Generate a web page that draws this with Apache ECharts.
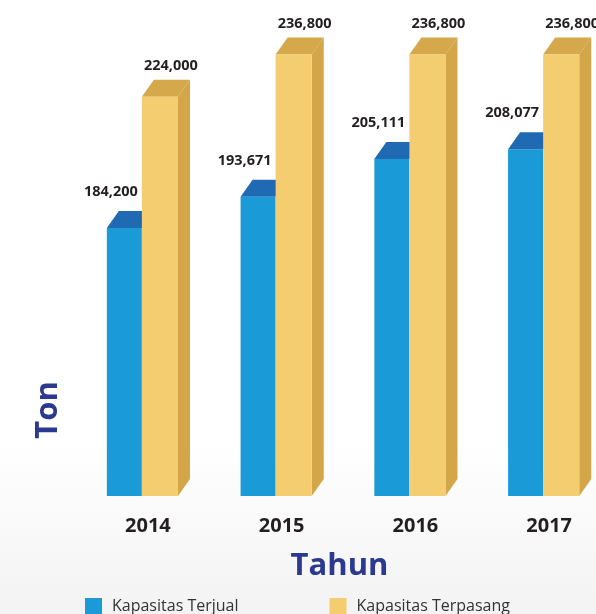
<!DOCTYPE html>
<html>
<head>
<meta charset="utf-8">
<script src="https://cdn.jsdelivr.net/npm/echarts@6/dist/echarts.min.js"></script>
<style>
html,body{margin:0;padding:0;}
#chart{width:596px;height:614px;}
</style>
</head>
<body>
<div id="chart"></div>
<script>
const years = ['2014', '2015', '2016', '2017'];
const kapasitasTerjual = [184200, 193671, 205111, 208077];
const kapasitasTerpasang = [224000, 236800, 236800, 236800];
const seriesNames = ['Kapasitas Terjual', 'Kapasitas Terpasang'];

const Y_MIN = 103000, Y_MAX = 250300;
const DX = 12, DY = 17;
const FONT = '"Open Sans", "Noto Sans", sans-serif';
const fmt = v => v.toLocaleString('en-US');

function blueItem(params, api) {
  const idx = api.value(0), val = api.value(1);
  const band = api.size([1, 0])[0];
  const w = band * 0.262;
  const p = api.coord([idx, val]);
  const b = api.coord([idx, Y_MIN]);
  const cx = p[0], top = p[1], base = b[1];
  return {
    type: 'group',
    children: [
      { type: 'rect', shape: { x: cx - w, y: top, width: w, height: base - top }, style: { fill: '#1a9bd7' } },
      { type: 'polygon', shape: { points: [[cx - w, top], [cx - w + DX, top - DY], [cx + DX, top - DY], [cx, top]] }, style: { fill: '#1f6ab3' } },
      { type: 'text', style: { text: fmt(val), x: cx - 4, y: top - DY - 19, align: 'right', verticalAlign: 'middle', fill: '#231f20', fontSize: 14.5, fontWeight: 'bold', fontFamily: FONT } }
    ]
  };
}

function yellowItem(params, api) {
  const idx = api.value(0), val = api.value(1);
  const band = api.size([1, 0])[0];
  const w = band * 0.27;
  const p = api.coord([idx, val]);
  const b = api.coord([idx, Y_MIN]);
  const cx = p[0], top = p[1], base = b[1];
  return {
    type: 'group',
    children: [
      { type: 'polygon', shape: { points: [[cx + w, top], [cx + w + DX, top - DY], [cx + w + DX, base - DY], [cx + w, base]] }, style: { fill: '#d3a64a' } },
      { type: 'polygon', shape: { points: [[cx, top], [cx + DX, top - DY], [cx + w + DX, top - DY], [cx + w, top]] }, style: { fill: '#d4a84b' } },
      { type: 'rect', shape: { x: cx, y: top, width: w, height: base - top }, style: { fill: '#f4cd71' } },
      { type: 'text', style: { text: fmt(val), x: cx + 2, y: top - DY - 14, align: 'left', verticalAlign: 'middle', fill: '#231f20', fontSize: 14.5, fontWeight: 'bold', fontFamily: FONT } }
    ]
  };
}

const chart = echarts.init(document.getElementById('chart'), null, { renderer: 'canvas' });
chart.setOption({
  animation: false,
  backgroundColor: {
    type: 'linear', x: 0, y: 0, x2: 0, y2: 1,
    colorStops: [{ offset: 0, color: '#ffffff' }, { offset: 0.72, color: '#ffffff' }, { offset: 1, color: '#f3f3f3' }]
  },
  grid: { left: 75, top: 10, width: 535, height: 486, outerBoundsMode: 'none', containLabel: false },
  legend: {
    data: seriesNames,
    left: 80, top: 593,
    itemWidth: 17, itemHeight: 17, itemGap: 91,
    icon: 'rect',
    textStyle: { fontFamily: FONT, fontSize: 16, color: '#333333', padding: [0, 0, 0, 5] }
  },
  xAxis: {
    type: 'category',
    data: years,
    axisLine: { show: false }, axisTick: { show: false },
    axisLabel: { margin: 20, fontFamily: FONT, fontSize: 20, fontWeight: 'bold', color: '#231f20', padding: [0, 0, 0, 12] },
    name: 'Tahun', nameLocation: 'middle', nameGap: 55,
    nameTextStyle: { fontFamily: FONT, fontSize: 31, fontWeight: 'bold', color: '#2b3990', padding: [0, 6, 0, 0] }
  },
  yAxis: {
    type: 'value', min: Y_MIN, max: Y_MAX,
    show: false, splitLine: { show: false }
  },
  graphic: [{
    type: 'text', x: 48, y: 410, rotation: Math.PI / 2,
    style: { text: 'Ton', align: 'center', verticalAlign: 'middle', fill: '#2b3990', fontFamily: FONT, fontSize: 31, fontWeight: 'bold' }
  }],
  series: [
    { name: seriesNames[0], type: 'custom', renderItem: blueItem, itemStyle: { color: '#1a9bd7' },
      encode: { x: 0, y: 1 }, data: kapasitasTerjual.map((v, i) => [i, v]), z: 2 },
    { name: seriesNames[1], type: 'custom', renderItem: yellowItem, itemStyle: { color: '#f4cd71' },
      encode: { x: 0, y: 1 }, data: kapasitasTerpasang.map((v, i) => [i, v]), z: 3 }
  ]
});
</script>
</body>
</html>
